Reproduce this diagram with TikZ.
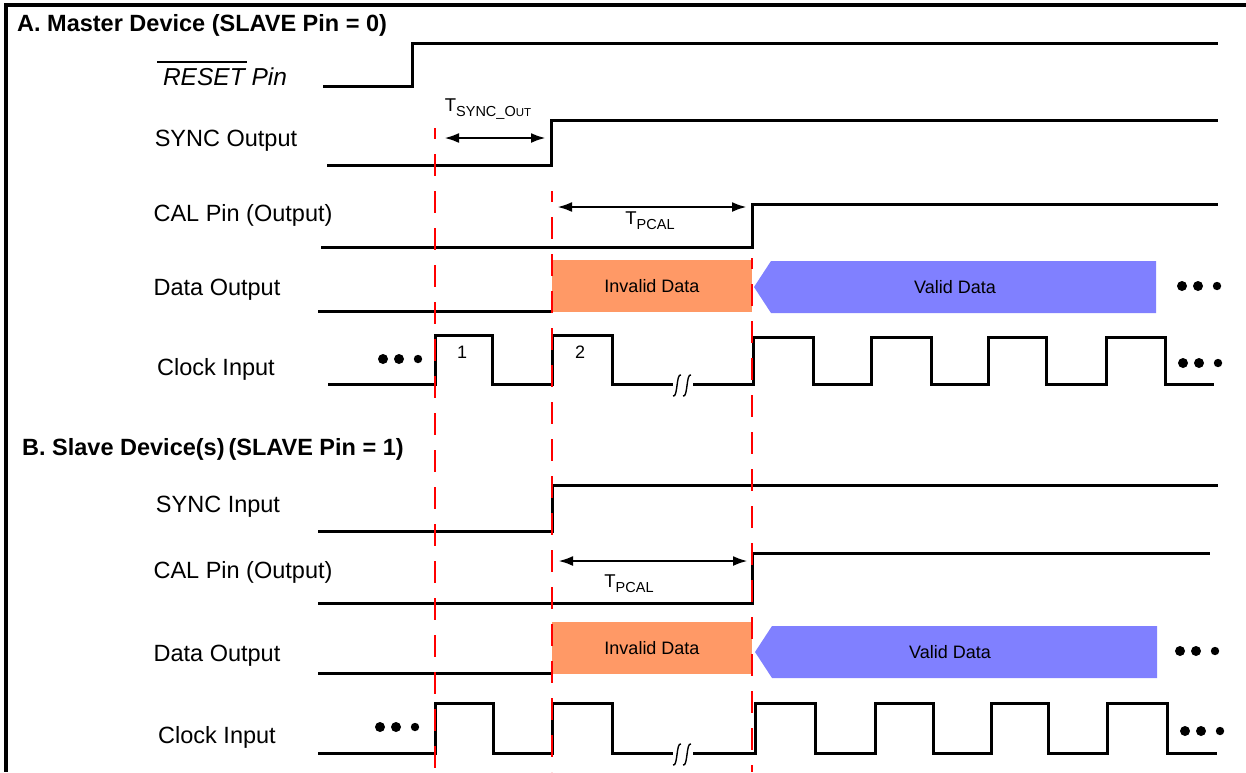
\documentclass[tikz,border=0pt]{standalone}
\usepackage{fontspec}
\setmainfont{Liberation Sans}
\usepackage{xcolor}
\usepackage{tikz}
\usetikzlibrary{arrows.meta}
\definecolor{invalidfill}{RGB}{255,153,102}
\definecolor{validfill}{RGB}{128,128,255}

\begin{document}
\begin{tikzpicture}[x=1pt, y=-1pt,
  wave/.style={line width=3pt, line join=miter},
  sig/.style={font=\fontsize{23.5}{28}\selectfont, anchor=base},
  head/.style={font=\fontsize{23.5}{28}\selectfont\bfseries, anchor=base west, inner sep=0pt},
  datalabel/.style={font=\fontsize{18}{22}\selectfont},
  invalidbox/.style={datalabel, fill=invalidfill, minimum width=200pt, minimum height=52pt, inner sep=0pt},
  marker/.style={red, line width=2.3pt, dash pattern=on 22pt off 15pt, dash phase=11pt},
  span/.style={line width=2.8pt, {Latex[length=15pt,width=10pt]}-{Latex[length=15pt,width=10pt]}},
  tlabel/.style={anchor=base, inner sep=0pt}]
  \useasboundingbox (0,0) rectangle (1246,772);
  \draw[line width=3.5pt] (1246,5) -- (6,5) -- (6,772);

  \node[head] (titleA) at (17,31) {A. Master Device (SLAVE Pin = 0)};
  \node[head] (titleB) at (22,455) {B. Slave Device(s)\,(SLAVE Pin = 1)};

  \node[sig, font=\fontsize{24.5}{28}\selectfont\itshape] (reset) at (225,85) {RESET Pin};
  \draw[line width=2.2pt] (157,62) -- (247,62);
  \node[sig] (syncout) at (226,146) {SYNC Output};
  \node[sig] (calA) at (243,221) {CAL Pin (Output)};
  \node[sig] (dataA) at (217,295) {Data Output};
  \node[sig] (clkA) at (216,375) {Clock Input};
  \node[sig] (syncin) at (218,512) {SYNC Input};
  \node[sig] (calB) at (243,578) {CAL Pin (Output)};
  \node[sig] (dataB) at (217,661) {Data Output};
  \node[sig] (clkB) at (217,743) {Clock Input};

  \draw[wave] (323,86) -- (412,86) -- (412,43) -- (1218,43);
  \draw[wave] (327,165) -- (551,165) -- (551,120) -- (1218,120);
  \draw[wave] (321,247) -- (752,247) -- (752,204) -- (1218,204);
  \draw[wave] (318,311) -- (552,311);
  \node[invalidbox] (badA) at (652,286) {Invalid Data};
  \fill[validfill] (754,287) -- (771,261) -- (1156,261) -- (1156,313) -- (771,313) -- cycle;
  \node[datalabel] (goodA) at (955,287) {Valid Data};

  \draw[wave] (328,384) -- (435,384) -- (435,335) -- (492,335) -- (492,384) -- (552,384)
    -- (552,335) -- (612,335) -- (612,384) -- (673,384);
  \draw[wave] (693,384) \foreach \r/\f in {753/813,871/931,988/1046,1106/1165} {
    -- (\r,384) -- (\r,337) -- (\f,337) -- (\f,384) } -- (1214,384);
  \node[font=\fontsize{18}{20}\selectfont] (pulse1) at (462,352) {1};
  \node[font=\fontsize{18}{20}\selectfont] (pulse2) at (580,352) {2};

  \draw[wave] (318,531) -- (552,531) -- (552,485) -- (1218,485);
  \draw[wave] (318,603) -- (752,603) -- (752,553) -- (1210,553);
  \draw[wave] (318,673) -- (552,673);
  \node[invalidbox] (badB) at (652,648) {Invalid Data};
  \fill[validfill] (755,652) -- (772,626) -- (1157,626) -- (1157,678) -- (772,678) -- cycle;
  \node[datalabel] (goodB) at (950,652) {Valid Data};

  \draw[wave] (318,753) -- (435,753) -- (435,703) -- (493,703) -- (493,753) -- (552,753)
    -- (552,703) -- (612,703) -- (612,753) -- (673,753);
  \draw[wave] (693,753) \foreach \r/\f in {755/815,875/933,991/1048,1107/1167} {
    -- (\r,753) -- (\r,703) -- (\f,703) -- (\f,753) } -- (1217,753);

  \foreach \c/\m in {677/384,687/384,677/753,687/753}
    \draw[line width=1.4pt] (\c-4,\m+12) .. controls (\c+1,\m+14) and (\c-1,\m-11) .. (\c+4,\m-9);

  \foreach \x/\y in {383/359,1182/286,1183/363,380/727,1180/651,1185/731}
    \fill (\x,\y) circle (5pt) (\x+16,\y) circle (5pt) (\x+35,\y) circle (4.2pt);

  \coordinate (syncL) at (444,138);
  \coordinate (syncR) at (546,138);
  \draw[span] (syncL) -- (syncR);
  \node[tlabel] (tsync) at (488,111) {{\fontsize{18.5}{20}\selectfont T}\raisebox{-5pt}{\fontsize{14.5}{16}\selectfont SYNC\_O\fontsize{11.5}{13}\selectfont UT}};
  \coordinate (pcalAL) at (557,207);
  \coordinate (pcalAR) at (747,207);
  \draw[span] (pcalAL) -- (pcalAR);
  \node[tlabel] (tpcalA) at (650,224) {{\fontsize{18.5}{20}\selectfont T}\raisebox{-5pt}{\fontsize{14.5}{16}\selectfont PCAL}};
  \coordinate (pcalBL) at (558,561);
  \coordinate (pcalBR) at (748,561);
  \draw[span] (pcalBL) -- (pcalBR);
  \node[tlabel] (tpcalB) at (629,587) {{\fontsize{18.5}{20}\selectfont T}\raisebox{-5pt}{\fontsize{14.5}{16}\selectfont PCAL}};

  \foreach \x/\y in {435/128,552/191,752/258}
    \draw[marker] (\x,\y) -- (\x,772);
\end{tikzpicture}
\end{document}
